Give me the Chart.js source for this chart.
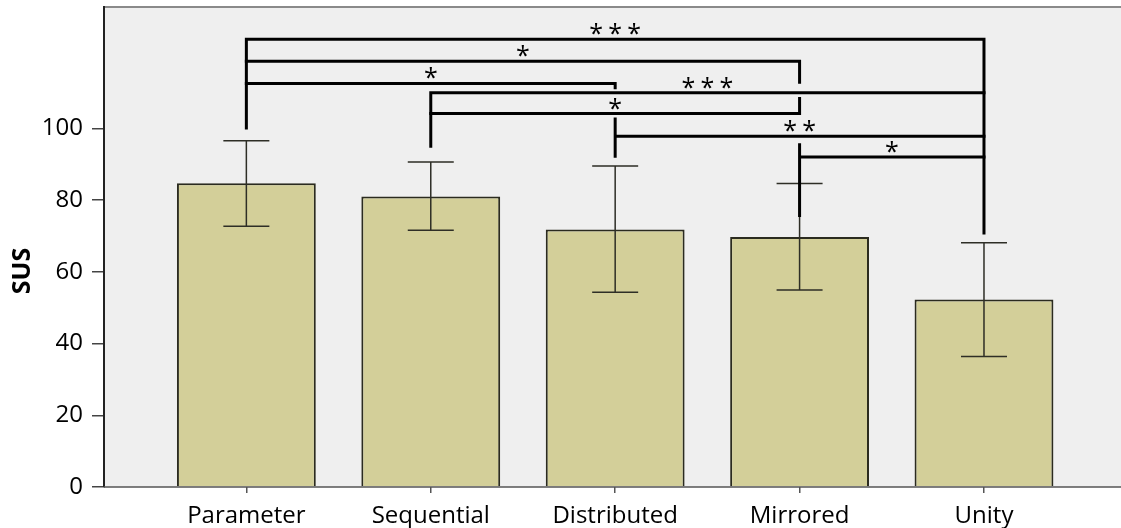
<!DOCTYPE html>
<html>
<head>
<meta charset="utf-8">
<title>SUS by condition</title>
<script src="https://cdn.jsdelivr.net/npm/chart.js@4.4.0/dist/chart.umd.min.js"></script>
<style>
  html,body{margin:0;padding:0;background:#fff;overflow:hidden;}
  #wrap{width:1121px;height:528px;}
  canvas{display:block;}
</style>
</head>
<body>
<div id="wrap"><canvas id="sus-chart" width="1121" height="528"></canvas></div>
<script>
/* ═══════════════════════════════════
   DATA
═══════════════════════════════════ */
var CATS = ['Parameter','Sequential','Distributed','Mirrored','Unity'];
var MEANS = [84.7, 81.0, 71.8, 69.7, 52.3];
var ERR_HI = [96.5, 90.6, 89.5, 84.6, 68.1];
var ERR_LO = [72.7, 71.6, 54.3, 54.9, 36.4];
var Y_TICKS = [0, 20, 40, 60, 80, 100];

// significance brackets (category index + level in SUS units)
var SIG_FROM = [0, 0, 0, 1, 1, 2, 3];
var SIG_TO = [4, 3, 2, 4, 3, 4, 4];
var SIG_LEVEL = [124.8, 118.7, 112.5, 109.9, 104.1, 97.8, 92.0];
var SIG_STARS = ['***', '*', '*', '***', '*', '**', '*'];
var SIG_FROM_SPAN = [[124.8,100.1], null, null, [109.9,95.0], null, [102.6,92.2], [95.4,75.7]];
var SIG_TO_SPAN = [[124.8,70.8], [118.7,112.8], [112.5,111.3], null, [108.3,104.1], null, null];

var FONT = '"Open Sans", "Noto Sans", sans-serif';

/* ═══════════════════════════════════
   PLUGINS
═══════════════════════════════════ */
var plotBg = {
  id:'plotBg',
  beforeDraw:function(chart){
    var a = chart.chartArea, c = chart.ctx;
    c.save();
    c.fillStyle = '#efefef';
    c.fillRect(a.left, a.top, chart.width - a.left, a.bottom - a.top);
    c.strokeStyle = '#8a8a8a';
    c.lineWidth = 2;
    c.beginPath();
    c.moveTo(a.left, a.top);
    c.lineTo(chart.width, a.top);
    c.stroke();
    c.restore();
  },
  afterDatasetsDraw:function(chart){
    // baseline of the category axis, full width
    var a = chart.chartArea, c = chart.ctx;
    c.save();
    c.strokeStyle = '#555';
    c.lineWidth = 1.5;
    c.beginPath();
    c.moveTo(a.left, a.bottom);
    c.lineTo(chart.width, a.bottom);
    c.stroke();
    c.restore();
  }
};

var errBars = {
  id:'errBars',
  afterDatasetsDraw:function(chart){
    var xs = chart.scales.x, ys = chart.scales.y, c = chart.ctx;
    c.save();
    c.strokeStyle = '#2e2e26';
    c.lineWidth = 1.5;
    MEANS.forEach(function(m, i){
      var x = xs.getPixelForValue(i);
      var y1 = ys.getPixelForValue(ERR_HI[i]);
      var y2 = ys.getPixelForValue(ERR_LO[i]);
      c.beginPath();
      c.moveTo(x, y1); c.lineTo(x, y2);
      c.moveTo(x - 23, y1); c.lineTo(x + 23, y1);
      c.moveTo(x - 23, y2); c.lineTo(x + 23, y2);
      c.stroke();
    });
    c.restore();
  }
};

var sigBrackets = {
  id:'sigBrackets',
  afterDraw:function(chart){
    var xs = chart.scales.x, ys = chart.scales.y, c = chart.ctx;
    c.save();
    c.strokeStyle = '#000';
    c.fillStyle = '#000';
    c.lineWidth = 3;
    c.lineCap = 'square';
    SIG_LEVEL.forEach(function(lv, i){
      var x1 = xs.getPixelForValue(SIG_FROM[i]);
      var x2 = xs.getPixelForValue(SIG_TO[i]);
      var y = ys.getPixelForValue(lv);
      c.beginPath();
      c.moveTo(x1, y); c.lineTo(x2, y);
      if(SIG_FROM_SPAN[i]){
        c.moveTo(x1, ys.getPixelForValue(SIG_FROM_SPAN[i][0]));
        c.lineTo(x1, ys.getPixelForValue(SIG_FROM_SPAN[i][1]));
      }
      if(SIG_TO_SPAN[i]){
        c.moveTo(x2, ys.getPixelForValue(SIG_TO_SPAN[i][0]));
        c.lineTo(x2, ys.getPixelForValue(SIG_TO_SPAN[i][1]));
      }
      c.stroke();

      // stars, spaced a bit wider than the font does
      var n = SIG_STARS[i].length, pitch = 19;
      var mid = (x1 + x2) / 2;
      c.font = '25px ' + FONT;
      c.textAlign = 'center';
      c.textBaseline = 'alphabetic';
      for(var k = 0; k < n; k++){
        c.fillText('*', mid + (k - (n - 1) / 2) * pitch, y + 3);
      }
    });
    c.restore();
  }
};

var yTitle = {
  id:'yTitle',
  afterDraw:function(chart){
    var c = chart.ctx;
    c.save();
    c.translate(23, 271);
    c.rotate(-Math.PI / 2);
    c.font = 'bold 25px ' + FONT;
    c.fillStyle = '#000';
    c.textAlign = 'center';
    c.textBaseline = 'middle';
    c.fillText('SUS', 0, 0);
    c.restore();
  }
};

/* ═══════════════════════════════════
   CHART
═══════════════════════════════════ */
function buildSusChart(){
  var ctx = document.getElementById('sus-chart');
  new Chart(ctx, {
    type:'bar',
    data:{
      datasets:[{
        label:'SUS',
        data:MEANS.map(function(v, i){ return {x:i, y:v}; }),
        backgroundColor:'#d3cf99',
        borderColor:'#2b2b1f',
        borderWidth:2,
        categoryPercentage:1,
        barPercentage:0.753
      }]
    },
    options:{
      responsive:false,
      animation:false,
      devicePixelRatio:1,
      layout:{padding:{top:7, right:0, left:0, bottom:0}},
      plugins:{legend:{display:false}, tooltip:{enabled:false}},
      scales:{
        x:{
          type:'linear',
          offset:false,
          min:-0.772,
          max:4.743,
          afterBuildTicks:function(s){ s.ticks = CATS.map(function(c, i){ return {value:i}; }); },
          afterFit:function(s){ s.height = 41; s.paddingLeft = 0; s.paddingRight = 0; },
          grid:{offset:false, drawOnChartArea:false, drawTicks:true, tickLength:6, color:'#555', lineWidth:1.5},
          border:{display:false},
          ticks:{
            autoSkip:false, maxRotation:0, padding:9,
            color:'#000', font:{family:FONT, size:24},
            callback:function(v){ return CATS[v]; }
          }
        },
        y:{
          min:0,
          max:133.8,
          afterBuildTicks:function(s){ s.ticks = Y_TICKS.map(function(v){ return {value:v}; }); },
          afterFit:function(s){ s.width = 104; s.paddingTop = 0; s.paddingBottom = 0; },
          grid:{drawOnChartArea:false, drawTicks:true, tickLength:12, color:'#444', lineWidth:1.5},
          border:{display:true, color:'#222', width:2},
          ticks:{padding:9, color:'#000', font:{family:FONT, size:24}}
        }
      }
    },
    plugins:[plotBg, errBars, sigBrackets, yTitle]
  });
}

document.addEventListener('DOMContentLoaded', buildSusChart);
</script>
</body>
</html>
